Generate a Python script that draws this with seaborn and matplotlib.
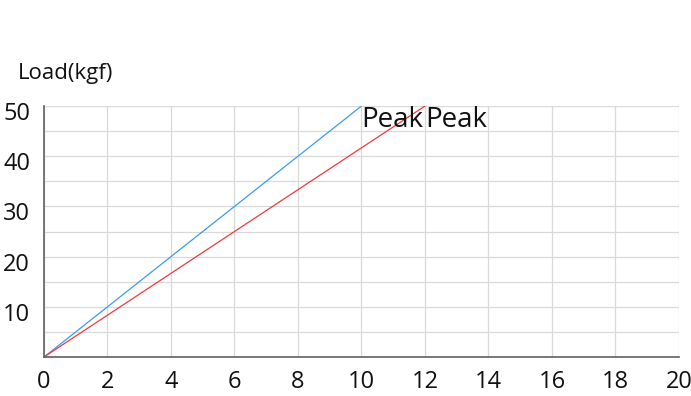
import matplotlib
matplotlib.use("Agg")
import matplotlib.pyplot as plt
import matplotlib.transforms as mtransforms
import seaborn as sns
import pandas as pd
from matplotlib.ticker import MultipleLocator

# Data
series_names = ["Blue", "Red"]
blue_x = [0, 10]
blue_y = [0, 50]
red_x = [0, 12]
red_y = [0, 50]
peak_label = "Peak"
x_ticks = [0, 2, 4, 6, 8, 10, 12, 14, 16, 18, 20]
y_ticks = [10, 20, 30, 40, 50]
y_label = "Load(kgf)"

sns.set_theme(style="white")
plt.rcParams['font.family'] = ['Open Sans', 'DejaVu Sans']

df = pd.DataFrame({
    "x": blue_x + red_x,
    "y": blue_y + red_y,
    "s": [series_names[0]] * len(blue_x) + [series_names[1]] * len(red_x),
})

fig = plt.figure(figsize=(6.91, 3.96), dpi=100)
ax = fig.add_axes([44 / 691, 39 / 396, 635 / 691, 251 / 396])

sns.lineplot(data=df, x="x", y="y", hue="s", palette={"Blue": "#3b9bf0", "Red": "#f03a3a"},
             linewidth=0.9, legend=False, ax=ax, estimator=None, sort=False)

ax.set_xlim(0, 20)
ax.set_ylim(0, 50)
ax.set_xticks(x_ticks)
ax.set_yticks(y_ticks)
ax.yaxis.set_minor_locator(MultipleLocator(5))
ax.grid(True, which="both", color="#d9d9d9", linewidth=0.9)
ax.set_axisbelow(True)
ax.set_xlabel("")
ax.set_ylabel("")

for s in ["top", "right"]:
    ax.spines[s].set_visible(False)
for s in ["left", "bottom"]:
    ax.spines[s].set_color("#606060")
    ax.spines[s].set_linewidth(1.2)

ax.tick_params(axis="both", which="both", length=0, labelsize=17, colors="#111111")
ax.tick_params(axis="x", pad=9)
ax.tick_params(axis="y", pad=10)

# shift y tick labels slightly down
offset = mtransforms.ScaledTranslation(0, -5 / 100, fig.dpi_scale_trans)
for lab in ax.get_yticklabels():
    lab.set_transform(lab.get_transform() + offset)

# Peak labels
ax.text(blue_x[-1], blue_y[-1], peak_label, fontsize=20, color="#111111",
        ha="left", va="top")
ax.text(red_x[-1], red_y[-1], peak_label, fontsize=20, color="#111111",
        ha="left", va="top")

fig.text(18 / 691, 1 - 73 / 396, y_label, fontsize=16, color="#111111",
         ha="left", va="center")

fig.savefig("out.png", dpi=100)
